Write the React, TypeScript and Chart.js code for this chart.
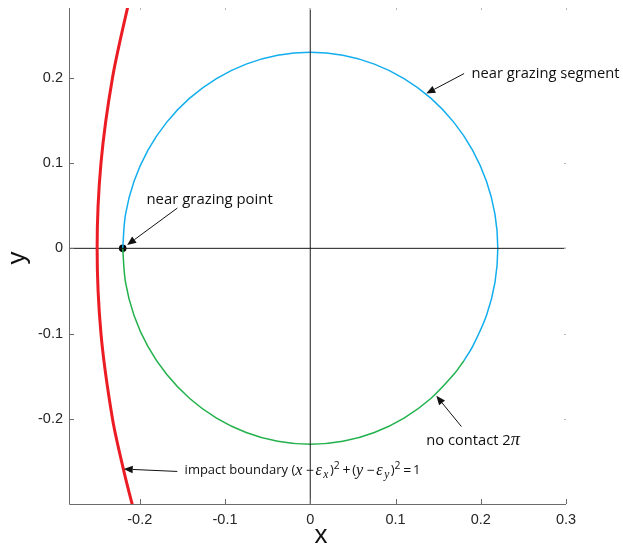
import React, { useEffect, useRef } from "react";
import { Chart, registerables } from "chart.js";
Chart.register(...registerables);

// ---- Axis ticks ----
const xTicks = [-0.2, -0.1, 0, 0.1, 0.2, 0.3];
const xTickLabels = ["-0.2", "-0.1", "0", "0.1", "0.2", "0.3"];
const yTicks = [-0.2, -0.1, 0, 0.1, 0.2];
const yTickLabels = ["-0.2", "-0.1", "0", "0.1", "0.2"];
const xRange = [-0.283, 0.3];
const yRange = [-0.3, 0.282];

// ---- Near grazing segment (blue) ----
const blueX = [-0.22, -0.2167, -0.2067, -0.1905, -0.1685, -0.1414, -0.11, -0.0752, -0.0382, 0, 0.0382, 0.0752, 0.11, 0.1414, 0.1685, 0.1905, 0.2067, 0.2167, 0.22, 0.2167, 0.2067, 0.1905, 0.1802];
const blueY = [0, 0.0399, 0.0787, 0.115, 0.1478, 0.1762, 0.1992, 0.2161, 0.2265, 0.23, 0.2265, 0.2161, 0.1992, 0.1762, 0.1478, 0.115, 0.0787, 0.0399, 0, -0.0399, -0.0787, -0.115, -0.1319];

// ---- No contact (green) ----
const greenX = [-0.22, -0.2167, -0.2067, -0.1905, -0.1685, -0.1414, -0.11, -0.0752, -0.0382, 0, 0.0382, 0.0752, 0.11, 0.1414, 0.1685, 0.1802];
const greenY = [0, -0.0399, -0.0787, -0.115, -0.1478, -0.1762, -0.1992, -0.2161, -0.2265, -0.23, -0.2265, -0.2161, -0.1992, -0.1762, -0.1478, -0.1319];

// ---- Impact boundary (red) ----
const redX = [-0.206, -0.209, -0.219, -0.232, -0.2455, -0.25, -0.2455, -0.232, -0.2125, -0.209];
const redY = [-0.31, -0.3, -0.26, -0.2, -0.1, 0, 0.1, 0.2, 0.29, 0.3];

// ---- Near grazing point ----
const pointX = [-0.22];
const pointY = [0];

// ---- Cross hairs ----
const hLineX = [-0.283, 0.3];
const hLineY = [0, 0];
const vLineX = [0, 0];
const vLineY = [-0.3, 0.282];

const toPts = (xs: number[], ys: number[]) => xs.map((x, i) => ({ x, y: ys[i] }));

type Part = { t: string; s: "n" | "m" | "sub" | "sup" | "op" };
type Note = { parts: Part[]; tx: number; ty: number; ax: number; ay: number; hx: number; hy: number; size: number };

const notes: Note[] = [
  { parts: [{ t: "near grazing segment", s: "n" }], tx: 0.1891, ty: 0.2042, ax: 0.1805, ay: 0.2051, hx: 0.1361, hy: 0.1816, size: 14.7 },
  { parts: [{ t: "near grazing point", s: "n" }], tx: -0.1921, ty: 0.0574, ax: -0.156, ay: 0.0472, hx: -0.2148, hy: 0.0039, size: 14.9 },
  { parts: [{ t: "no contact 2", s: "n" }, { t: "π", s: "m" }], tx: 0.1361, ty: -0.2255, ax: 0.1773, ay: -0.2091, hx: 0.1479, hy: -0.1731, size: 14.7 },
  {
    parts: [
      { t: "impact boundary (", s: "n" }, { t: "x", s: "m" }, { t: "−", s: "op" }, { t: "ε", s: "m" }, { t: "x", s: "sub" },
      { t: ")", s: "n" }, { t: "2", s: "sup" }, { t: "+", s: "op" }, { t: "(", s: "n" }, { t: "y", s: "m" }, { t: "−", s: "op" }, { t: "ε", s: "m" },
      { t: "y", s: "sub" }, { t: ")", s: "n" }, { t: "2", s: "sup" }, { t: "=", s: "op" }, { t: "1", s: "n" },
    ],
    tx: -0.1474, ty: -0.261, ax: -0.156, ay: -0.2618, hx: -0.2188, hy: -0.259, size: 13,
  },
];

const TEXT_FONT = "'Open Sans', 'DejaVu Sans', sans-serif";
const MATH_FONT = "'Liberation Serif', 'DejaVu Serif', serif";
const TICK_FONT = "'Liberation Sans', Arial, sans-serif";

const overlay = {
  id: "overlay",
  afterDraw(chart: any) {
    const ctx = chart.ctx as CanvasRenderingContext2D;
    const { left, right, top, bottom } = chart.chartArea;
    const xs = chart.scales.x;
    const ys = chart.scales.y;
    ctx.save();
    // axis lines
    ctx.strokeStyle = "#6b6b6b";
    ctx.lineWidth = 1;
    ctx.beginPath();
    ctx.moveTo(left + 0.5, top);
    ctx.lineTo(left + 0.5, bottom + 0.5);
    ctx.lineTo(right, bottom + 0.5);
    ctx.stroke();
    // inward ticks
    ctx.beginPath();
    for (const v of xTicks) {
      const px = Math.round(xs.getPixelForValue(v)) + 0.5;
      ctx.moveTo(px, bottom);
      ctx.lineTo(px, bottom - 5);
    }
    for (const v of yTicks) {
      const py = Math.round(ys.getPixelForValue(v)) + 0.5;
      ctx.moveTo(left, py);
      ctx.lineTo(left + 5, py);
    }
    ctx.stroke();
    // faint ticks on top and right
    ctx.strokeStyle = "#b5b5b5";
    ctx.beginPath();
    for (const v of xTicks) {
      const px = Math.round(xs.getPixelForValue(v)) + 0.5;
      ctx.moveTo(px, top);
      ctx.lineTo(px, top + 2);
    }
    for (const v of yTicks) {
      const py = Math.round(ys.getPixelForValue(v)) + 0.5;
      ctx.moveTo(right, py);
      ctx.lineTo(right - 2, py);
    }
    ctx.stroke();

    // axis titles
    ctx.fillStyle = "#111";
    ctx.font = `26px ${TICK_FONT}`;
    ctx.textAlign = "center";
    ctx.textBaseline = "alphabetic";
    ctx.fillText("x", (left + right) / 2 + 3.5, 543);
    ctx.save();
    ctx.translate(25, (top + bottom) / 2 + 2);
    ctx.rotate(-Math.PI / 2);
    ctx.fillText("y", 0, 0);
    ctx.restore();

    // annotations
    for (const n of notes) {
      const tipX = xs.getPixelForValue(n.hx);
      const tipY = ys.getPixelForValue(n.hy);
      const tailX = xs.getPixelForValue(n.ax);
      const tailY = ys.getPixelForValue(n.ay);
      const ang = Math.atan2(tipY - tailY, tipX - tailX);
      const hl = 9, hw = 3.8;
      const bx = tipX - hl * Math.cos(ang);
      const by = tipY - hl * Math.sin(ang);
      ctx.strokeStyle = "#111";
      ctx.lineWidth = 1;
      ctx.beginPath();
      ctx.moveTo(tailX, tailY);
      ctx.lineTo(bx, by);
      ctx.stroke();
      ctx.fillStyle = "#111";
      ctx.beginPath();
      ctx.moveTo(tipX, tipY);
      ctx.lineTo(bx + hw * Math.sin(ang), by - hw * Math.cos(ang));
      ctx.lineTo(bx - hw * Math.sin(ang), by + hw * Math.cos(ang));
      ctx.closePath();
      ctx.fill();

      let cx = xs.getPixelForValue(n.tx);
      const cy = ys.getPixelForValue(n.ty);
      ctx.textAlign = "left";
      ctx.textBaseline = "middle";
      for (const p of n.parts) {
        let size = n.size;
        let dy = 0;
        let font = `${size}px ${TEXT_FONT}`;
        let padL = 0;
        let padR = 0;
        if (p.s === "m") { size = n.size * 1.25; font = `italic ${size}px ${MATH_FONT}`; padR = 1.4; }
        if (p.s === "sub") { size = n.size * 0.88; dy = n.size * 0.32; font = `italic ${size}px ${MATH_FONT}`; padR = 1.5; }
        if (p.s === "sup") { size = n.size * 0.8; dy = -n.size * 0.4; font = `${size}px ${TEXT_FONT}`; padR = 1; }
        if (p.s === "op") { font = `${n.size * 1.08}px ${TEXT_FONT}`; padL = 1.8; padR = 1.8; }
        ctx.font = font;
        cx += padL;
        ctx.fillText(p.t, cx, cy + dy);
        cx += ctx.measureText(p.t).width + padR;
      }
    }
    ctx.restore();
  },
};

export default function App() {
  const ref = useRef<HTMLCanvasElement | null>(null);
  useEffect(() => {
    if (!ref.current) return;
    const lineDs = (label: string, xs: number[], ys: number[], color: string, width: number, tension: number) => ({
      label,
      data: toPts(xs, ys),
      showLine: true,
      borderColor: color,
      backgroundColor: color,
      borderWidth: width,
      pointRadius: 0,
      pointHoverRadius: 0,
      tension,
    });
    const chart = new Chart(ref.current, {
      type: "scatter",
      data: {
        datasets: [
          lineDs("impact boundary", redX, redY, "#ec1c24", 3, 0.3),
          lineDs("x=0", vLineX, vLineY, "#1a1a1a", 1, 0),
          lineDs("y=0", hLineX, hLineY, "#1a1a1a", 1, 0),
          lineDs("no contact 2π", greenX, greenY, "#22b14c", 1.5, 0.34),
          lineDs("near grazing segment", blueX, blueY, "#12aded", 1.5, 0.34),
          {
            label: "near grazing point",
            data: toPts(pointX, pointY),
            pointRadius: 3.8,
            backgroundColor: "#000",
            borderColor: "#000",
            borderWidth: 0,
          },
        ],
      },
      options: {
        animation: false,
        responsive: false,
        layout: { padding: { top: 8, right: 57, left: 0, bottom: 0 } },
        plugins: { legend: { display: false }, tooltip: { enabled: false } },
        scales: {
          x: {
            type: "linear",
            min: xRange[0],
            max: xRange[1],
            grid: { display: false, drawTicks: false },
            border: { display: false },
            afterBuildTicks: (s: any) => { s.ticks = xTicks.map((v) => ({ value: v })); },
            afterFit: (s: any) => { s.height = 40; s.paddingLeft = 0; s.paddingRight = 0; },
            ticks: {
              autoSkip: false,
              maxRotation: 0,
              padding: 7.6,
              color: "#262626",
              font: { family: TICK_FONT, size: 14.5 },
              callback: (v: any) => xTickLabels[xTicks.findIndex((t) => Math.abs(t - v) < 1e-9)] ?? "",
            },
          },
          y: {
            type: "linear",
            min: yRange[0],
            max: yRange[1],
            grid: { display: false, drawTicks: false },
            border: { display: false },
            afterBuildTicks: (s: any) => { s.ticks = yTicks.map((v) => ({ value: v })); },
            afterFit: (s: any) => { s.width = 69; s.paddingTop = 0; s.paddingBottom = 0; },
            ticks: {
              autoSkip: false,
              padding: 6,
              color: "#262626",
              font: { family: TICK_FONT, size: 14.5 },
              callback: (v: any) => yTickLabels[yTicks.findIndex((t) => Math.abs(t - v) < 1e-9)] ?? "",
            },
          },
        },
      } as any,
      plugins: [overlay],
    });
    return () => chart.destroy();
  }, []);
  return (
    <canvas
      ref={ref}
      width={623}
      height={544}
      style={{ position: "absolute", left: 0, top: 0, width: 623, height: 544, display: "block" }}
    />
  );
}
